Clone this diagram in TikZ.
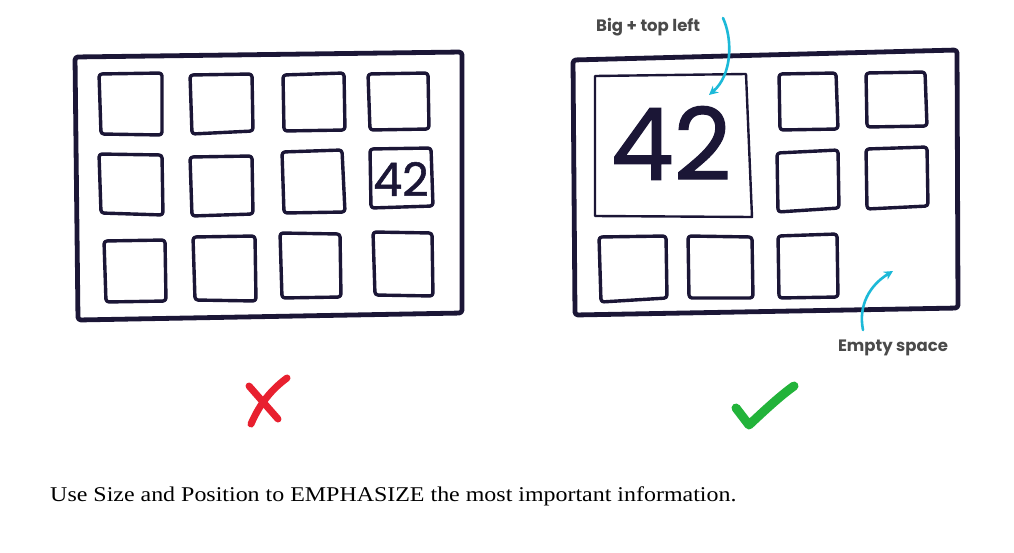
\documentclass[tikz,border=0pt]{standalone}
\usepackage{fontspec}
\setmainfont{Liberation Serif}
\newfontfamily\annfont{Poppins}
\newfontfamily\digitfont{Poppins}[FakeBold=1.2]
\usetikzlibrary{arrows.meta}
\definecolor{ink}{HTML}{1B1636}
\definecolor{anntext}{HTML}{4A4A4A}
\definecolor{anncyan}{HTML}{1CB9D8}
\definecolor{xred}{HTML}{E8202F}
\definecolor{okgreen}{HTML}{22B33A}
\tikzset{
  frame/.style={draw=ink, line width=4.8pt, line join=round, line cap=round, rounded corners=3pt},
  sq/.style={draw=ink, line width=3.4pt, line join=round, line cap=round, rounded corners=3pt},
  bigsq/.style={draw=ink, line width=2.4pt, line join=round, line cap=round},
  ann/.style={font=\annfont\bfseries\fontsize{16.5}{18}\selectfont, text=anntext, inner sep=0pt},
  annarrow/.style={draw=anncyan, line width=2.6pt, line cap=round, -{Stealth[length=9pt,width=9pt]}},
  digits/.style={text=ink, inner sep=0pt},
  penstroke/.style={line width=7pt, line cap=round, line join=round}
}
\begin{document}
\begin{tikzpicture}[x=1pt,y=-1pt]
\useasboundingbox[fill=white] (0,0) rectangle (1014,552);

% ---------- Left panel ----------
\draw[frame] (75,57) -- (462,52) -- (462,313) -- (78,320) -- cycle;
% row 1
\draw[sq] (99,74) -- (162,73) -- (162,135) -- (101,134) -- cycle;
\draw[sq] (190,75) -- (252,74) -- (253,131) -- (192,134) -- cycle;
\draw[sq] (283,75) -- (344,73) -- (345,130) -- (284,131) -- cycle;
\draw[sq] (368,74) -- (428,73) -- (429,129) -- (370,130) -- cycle;
% row 2
\draw[sq] (99,154) -- (162,155) -- (163,215) -- (101,213) -- cycle;
\draw[sq] (190,157) -- (252,156) -- (253,214) -- (192,216) -- cycle;
\draw[sq] (282,152) -- (342,150) -- (345,212) -- (284,213) -- cycle;
\draw[sq] (370,149) -- (431,148) -- (433,206) -- (371,208) -- cycle;
\node[digits, font=\digitfont\fontsize{46}{46}\selectfont] (n42s) at (401,179) {42};
% row 3
\draw[sq] (104,241) -- (165,240) -- (166,301) -- (106,302) -- cycle;
\draw[sq] (193,237) -- (255,236) -- (256,301) -- (195,300) -- cycle;
\draw[sq] (280,233) -- (340,234) -- (341,297) -- (282,298) -- cycle;
\draw[sq] (373,232) -- (432,233) -- (433,296) -- (375,295) -- cycle;

% red cross
\draw[penstroke, xred] (249,386) -- (278,419);
\draw[penstroke, xred] (287,378) .. controls (268,392) and (258,408) .. (251,424);

% ---------- Right panel ----------
\draw[frame] (573,60) -- (957,50) -- (958,308) -- (575,315) -- cycle;
% big box
\draw[bigsq] (595,76) -- (746,74) -- (752,217) -- (595,216) -- cycle;
\node[digits, font=\digitfont\fontsize{100}{100}\selectfont] (n42b) at (671,143) {42};
% small squares
\draw[sq] (779,74) -- (836,73) -- (838,129) -- (780,130) -- cycle;
\draw[sq] (866,73) -- (925,72) -- (927,126) -- (867,127) -- cycle;
\draw[sq] (777,153) -- (838,150) -- (839,208) -- (778,212) -- cycle;
\draw[sq] (866,149) -- (927,147) -- (928,206) -- (867,209) -- cycle;
\draw[sq] (599,237) -- (666,236) -- (667,298) -- (601,302) -- cycle;
\draw[sq] (688,236) -- (752,237) -- (753,298) -- (689,298) -- cycle;
\draw[sq] (778,236) -- (837,234) -- (838,297) -- (779,298) -- cycle;

% annotations
\node[ann, anchor=west] (lblbig) at (596,27) {Big + top left};
\coordinate (bigstart) at (723,18);
\coordinate (bigtip) at (709,95);
\draw[annarrow] (bigstart) .. controls (733,40) and (732,75) .. (bigtip);

\node[ann, anchor=center] (lblempty) at (893,348) {Empty space};
\coordinate (emptystart) at (863,330);
\coordinate (emptytip) at (893,271);
\draw[annarrow] (emptystart) .. controls (858,305) and (870,285) .. (emptytip);

% green check
\draw[penstroke, okgreen, line width=9pt] (736,408) -- (749,425) .. controls (765,410) and (780,396) .. (794,386);

% caption
\node[anchor=base west, inner sep=0pt, xscale=1.14, font=\fontsize{21}{24}\selectfont] (caption) at (50,501) {Use Size and Position to EMPHASIZE the most important information.};
\end{tikzpicture}
\end{document}
